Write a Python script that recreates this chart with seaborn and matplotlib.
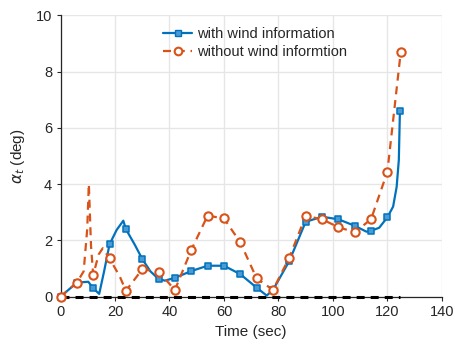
import matplotlib
matplotlib.use("Agg")
import matplotlib.pyplot as plt
from matplotlib.lines import Line2D
import seaborn as sns
import pandas as pd

# ---- data ----
# continuous curve, with wind information
t_with = [0, 6, 10.2, 12, 14.2, 16, 18, 20.6, 23.05, 24, 27.3, 30, 33, 36, 38.3, 42, 48, 54, 60,
          66, 72, 75.7, 78, 84, 90, 96, 102, 108, 112.3, 114, 117, 120, 122.1, 123.4, 124.2, 124.6]
v_with = [0, 0.50, 0.53, 0.30, 0.10, 0.90, 1.86, 2.37, 2.70, 2.40, 1.84, 1.34, 0.90, 0.63, 0.57, 0.67, 0.91, 1.10, 1.10,
          0.80, 0.32, 0.04, 0.24, 1.27, 2.66, 2.84, 2.75, 2.52, 2.31, 2.34, 2.45, 2.82, 3.20, 3.90, 4.86, 6.60]
# continuous curve, without wind information
t_without = [0, 6, 8.5, 9.8, 10.4, 11.2, 12, 14, 15.5, 18, 21.8, 24, 30, 36, 42, 48, 54, 60,
             66, 72, 78, 84, 90, 96, 102, 108, 114, 120, 124.9]
v_without = [0, 0.50, 0.90, 2.40, 4.00, 1.80, 0.77, 1.50, 1.72, 1.36, 0.71, 0.21, 0.97, 0.89, 0.24, 1.66, 2.88, 2.78,
             1.93, 0.65, 0.24, 1.39, 2.87, 2.75, 2.47, 2.29, 2.75, 4.44, 8.69]
# marker samples
tm_with = [0, 6, 12, 18, 24, 30, 36, 42, 48, 54, 60, 66, 72, 78, 84, 90, 96, 102, 108, 114, 120, 124.6]
vm_with = [0, 0.50, 0.30, 1.86, 2.40, 1.34, 0.63, 0.67, 0.91, 1.10, 1.10, 0.80, 0.32, 0.24, 1.27, 2.66, 2.84,
           2.75, 2.52, 2.34, 2.82, 6.60]
tm_without = [0, 6, 12, 18, 24, 30, 36, 42, 48, 54, 60, 66, 72, 78, 84, 90, 96, 102, 108, 114, 120, 124.9]
vm_without = [0, 0.50, 0.77, 1.36, 0.21, 0.97, 0.89, 0.24, 1.66, 2.88, 2.78, 1.93, 0.65, 0.24, 1.39, 2.87, 2.75,
              2.47, 2.29, 2.75, 4.44, 8.69]
t_zero = [0, 124.6]
v_zero = [0, 0]

labels = ["with wind information", "without wind informtion"]
x_ticks = [0, 20, 40, 60, 80, 100, 120, 140]
y_ticks = [0, 2, 4, 6, 8, 10]

BLUE = "#0072BD"
ORANGE = "#D95319"

sns.set_style("whitegrid", {"grid.color": "#e6e6e6", "axes.edgecolor": "#262626",
                            "xtick.bottom": True, "ytick.left": True})
plt.rcParams["font.family"] = ["Liberation Sans", "DejaVu Sans"]

fig = plt.figure(figsize=(4.56, 3.54), dpi=100)
ax = fig.add_axes([0.1327, 0.1619, 0.969 - 0.1327, 0.957 - 0.1619])

df_with = pd.DataFrame({"t": t_with, "v": v_with})
df_without = pd.DataFrame({"t": t_without, "v": v_without})
dfm_with = pd.DataFrame({"t": tm_with, "v": vm_with})
dfm_without = pd.DataFrame({"t": tm_without, "v": vm_without})
df_zero = pd.DataFrame({"t": t_zero, "v": v_zero})

sns.lineplot(data=df_zero, x="t", y="v", ax=ax, color="black", lw=2.2, sort=False,
             linestyle=(0, (2.6, 2.0)), zorder=3, clip_on=False)
sns.lineplot(data=df_with, x="t", y="v", ax=ax, color=BLUE, lw=1.6, sort=False, zorder=4, clip_on=False)
sns.lineplot(data=df_without, x="t", y="v", ax=ax, color=ORANGE, lw=1.6, sort=False,
             linestyle=(0, (3.6, 2.6)), zorder=5, clip_on=False)
sns.scatterplot(data=dfm_with, x="t", y="v", ax=ax, marker="s", s=24, color="#4a9ad6",
                edgecolor=BLUE, linewidth=1.1, zorder=6, clip_on=False)
sns.scatterplot(data=dfm_without, x="t", y="v", ax=ax, marker="o", s=36, color="white",
                edgecolor=ORANGE, linewidth=1.5, zorder=7, clip_on=False)

ax.set_xlim(0, 140)
ax.set_ylim(0, 10)
ax.set_xticks(x_ticks)
ax.set_yticks(y_ticks)
ax.tick_params(axis="both", labelsize=10.5, colors="#262626", length=3, width=0.8, direction="out", pad=3)
for side in ["top", "right"]:
    ax.spines[side].set_visible(False)
for side in ["left", "bottom"]:
    ax.spines[side].set_color("#262626")
    ax.spines[side].set_linewidth(0.9)
ax.grid(True, color="#e6e6e6", lw=1.0)
ax.set_axisbelow(True)

ax.set_xlabel("Time (sec)", fontsize=11, color="#262626", labelpad=4)
ax.set_ylabel(r"$\alpha_t$ (deg)", fontsize=11, color="#262626", labelpad=6)

handles = [
    Line2D([0], [0], color=BLUE, lw=1.6, marker="s", markersize=4.5, markerfacecolor="#4a9ad6",
           markeredgecolor=BLUE),
    Line2D([0], [0], color=ORANGE, lw=1.6, linestyle=(0, (3.6, 2.6)), marker="o", markersize=5.5,
           markerfacecolor="white", markeredgecolor=ORANGE, markeredgewidth=1.5),
]
ax.legend(handles, labels, loc="upper center", bbox_to_anchor=(0.51, 0.99), frameon=False,
          fontsize=10.5, handlelength=2.0, handletextpad=0.3, labelspacing=0.3, borderaxespad=0.2)

fig.savefig("out.png", dpi=100)
